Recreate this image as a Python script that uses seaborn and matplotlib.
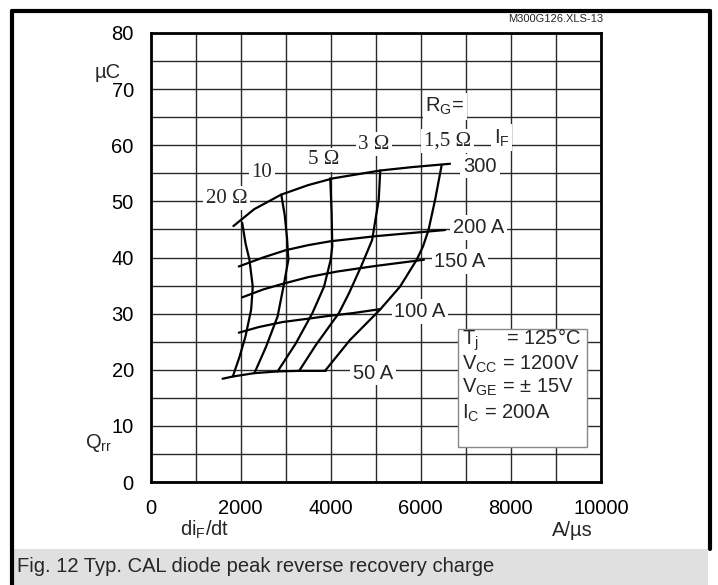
import numpy as np
import pandas as pd
import seaborn as sns
import matplotlib.pyplot as plt
from matplotlib.patches import Rectangle
from matplotlib.lines import Line2D

# forward current curves (IF), di/dt in A/us, Qrr in uC
if_300_x = [1840, 2300, 2900, 3500, 4050, 5100, 5800, 6650]
if_300_y = [45.6, 48.6, 51.2, 52.9, 54.1, 55.5, 56.1, 56.7]
if_200_x = [1960, 2500, 3000, 3500, 4000, 5000, 6540]
if_200_y = [38.4, 40.0, 41.3, 42.2, 42.9, 43.8, 44.9]
if_150_x = [2035, 2500, 2930, 3500, 4145, 5000, 6070]
if_150_y = [32.9, 34.3, 35.3, 36.5, 37.5, 38.5, 39.6]
if_100_x = [1960, 2400, 2930, 3500, 3960, 4500, 5100]
if_100_y = [26.6, 27.6, 28.5, 29.1, 29.6, 30.1, 30.8]
if_50_x = [1600, 1830, 2310, 2820, 3300, 3890]
if_50_y = [18.4, 18.8, 19.4, 19.7, 19.8, 19.8]

# gate resistor curves (RG)
rg_20_x = [2035, 2110, 2196, 2270, 2234, 2107, 1976, 1827]
rg_20_y = [46.2, 42.5, 39.6, 34.8, 30.7, 25.9, 22.3, 18.8]
rg_10_x = [2903, 2980, 3030, 3060, 2966, 2821, 2565, 2307]
rg_10_y = [51.2, 47.5, 43.5, 39.6, 35.4, 29.5, 24.1, 19.4]
rg_5_x = [3990, 4020, 4035, 4000, 3852, 3594, 3226, 2821]
rg_5_y = [54.1, 48.0, 42.0, 39.6, 34.8, 30.1, 24.7, 19.7]
rg_3_x = [5100, 5066, 4919, 4680, 4404, 4182, 3670, 3300]
rg_3_y = [55.5, 50.3, 43.1, 38.5, 33.6, 30.1, 24.4, 19.8]
rg_15_x = [6464, 6318, 6171, 6050, 5909, 5538, 5094, 4428, 3873]
rg_15_y = [56.5, 50.3, 44.9, 42.0, 39.6, 34.8, 30.7, 25.3, 19.8]

if_labels = ["300", "200 A", "150 A", "100 A", "50 A"]
if_label_x = [7314, 7277, 6870, 5982, 4946]
if_label_y = [56.3, 45.4, 39.3, 30.4, 19.4]
rg_labels = ["20 Ω", "10", "5 Ω", "3 Ω", "1,5 Ω"]
rg_label_x = [1691, 2468, 3836, 4961, 6597]
rg_label_y = [50.6, 55.1, 57.4, 60.2, 60.8]

x_ticks = list(range(0, 10001, 1000))
x_ticklabels = ["0", "", "2000", "", "4000", "", "6000", "", "8000", "", "10000"]
y_ticks = list(range(0, 81, 5))
y_ticklabels = [str(v) if v % 10 == 0 else "" for v in y_ticks]

sns.set_theme(style="white")
plt.rcParams['font.family'] = ['Liberation Sans', 'DejaVu Sans']
plt.rcParams['mathtext.default'] = 'regular'

FS = 14.5
W, H = 718, 585
fig = plt.figure(figsize=(W / 100, H / 100), dpi=100)
ax = fig.add_axes([150.5 / W, 1 - 482 / H, 450.5 / W, 449 / H])

curves = [(if_300_x, if_300_y), (if_200_x, if_200_y), (if_150_x, if_150_y),
          (if_100_x, if_100_y), (if_50_x, if_50_y),
          (rg_20_x, rg_20_y), (rg_10_x, rg_10_y), (rg_5_x, rg_5_y),
          (rg_3_x, rg_3_y), (rg_15_x, rg_15_y)]
for cx, cy in curves:
    sns.lineplot(x=cx, y=cy, sort=False, estimator=None, color="black",
                 lw=1.6, ax=ax, zorder=4)

ax.set_xlim(0, 10000)
ax.set_ylim(0, 80)
ax.set_xticks(x_ticks)
ax.set_xticklabels(x_ticklabels)
ax.set_yticks(y_ticks)
ax.set_yticklabels(y_ticklabels)
ax.tick_params(length=0, labelsize=FS, colors="black")
ax.tick_params(axis="x", pad=12)
ax.tick_params(axis="y", pad=12)
ax.grid(True, color="#2a2a2a", lw=1)
ax.set_axisbelow(True)
for s in ax.spines.values():
    s.set_color("black")
    s.set_linewidth(2)

box = dict(facecolor="white", edgecolor="none", pad=2)
for t, x, y in zip(if_labels, if_label_x, if_label_y):
    ax.text(x, y, t, fontsize=FS, ha="center", va="center", bbox=box, zorder=3)
for t, x, y in zip(rg_labels, rg_label_x, rg_label_y):
    ax.text(x, y, t, fontsize=15, ha="center", va="center", bbox=box, zorder=3,
            family=["Liberation Serif", "DejaVu Serif"])
ax.text(6537, 66.9, "$R_G$=", fontsize=FS, ha="center", va="center", bbox=box, zorder=3)
ax.text(7796, 61.3, "$I_F$", fontsize=FS, ha="center", va="center", bbox=box, zorder=3)

# conditions box
ax.add_patch(Rectangle((6832, 6.2), 2862, 21.1, facecolor="white",
                       edgecolor="#888888", lw=1, zorder=5))
cond = ["$T_j$     = 125°C", "$V_{CC}$ = 1200V", "$V_{GE}$ = ± 15V", "$I_C$ = 200A"]
cond_y = [25.3, 21.0, 16.8, 12.3]
for t, y in zip(cond, cond_y):
    ax.text(6915, y, t, fontsize=FS, ha="left", va="center", zorder=6)

# axis unit labels
fig.text(108 / W, 1 - 72 / H, "µC", fontsize=FS, ha="center", va="center")
fig.text(99 / W, 1 - 443 / H, "$Q_{rr}$", fontsize=FS, ha="center", va="center")
fig.text(205 / W, 1 - 530 / H, "$di_F$/dt", fontsize=FS, ha="center", va="center")
fig.text(572 / W, 1 - 530 / H, "A/µs", fontsize=FS, ha="center", va="center")
fig.text(603 / W, 1 - 19 / H, "M300G126.XLS-13", fontsize=8, ha="right", va="center")

# frame and caption band
fig.add_artist(Line2D([12 / W, 12 / W], [0, 1 - 11 / H], color="black", lw=3))
fig.add_artist(Line2D([12 / W, 710 / W], [1 - 11 / H, 1 - 11 / H], color="black", lw=3))
fig.add_artist(Line2D([710 / W, 710 / W], [1 - 11 / H, 1 - 549 / H], color="black", lw=3))
fig.add_artist(Rectangle((14 / W, 0), 694 / W, 36 / H, transform=fig.transFigure,
                         facecolor="#e0e0e0", edgecolor="none"))
fig.text(17 / W, 1 - 567 / H, "Fig. 12 Typ. CAL diode peak reverse recovery charge",
         fontsize=FS, ha="left", va="center")

fig.savefig("out.png", dpi=100)
